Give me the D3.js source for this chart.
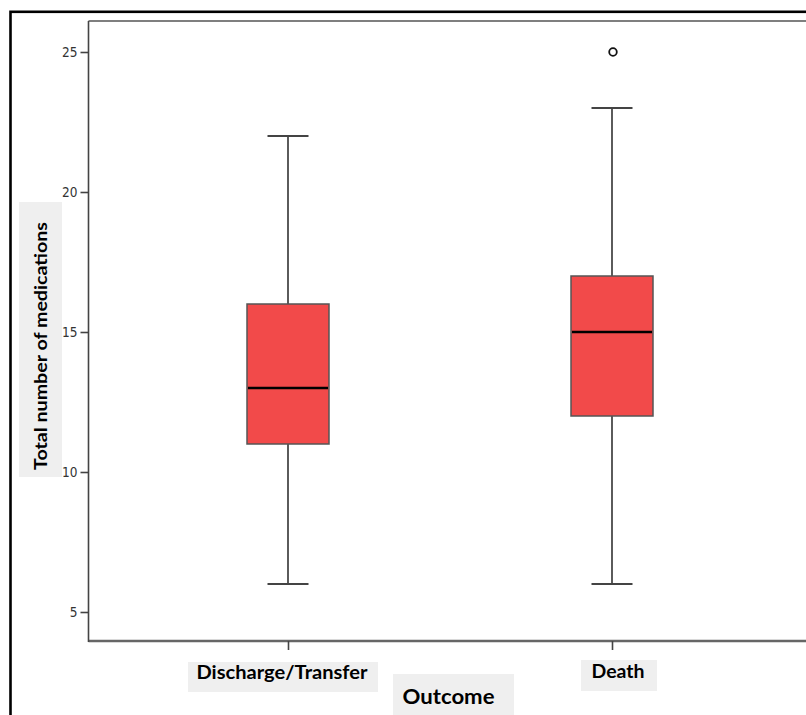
<!DOCTYPE html>
<html><head><meta charset="utf-8">
<script src="https://cdn.jsdelivr.net/npm/d3@7"></script>
<style>html,body{margin:0;padding:0;background:#fff;}svg{display:block;}</style>
</head><body>
<script>
const categories = ["Discharge/Transfer", "Death"];
const whiskerLow = [6, 6];
const q1 = [11, 12];
const median = [13, 15];
const q3 = [16, 17];
const whiskerHigh = [22, 23];
const outliers = [[], [25]];
const yTicks = [5, 10, 15, 20, 25];
const xTitle = "Outcome";
const yTitle = "Total number of medications";

const W = 806, H = 715;
const svg = d3.select("body").append("svg").attr("width", W).attr("height", H);
const font = "Lato, 'Open Sans', sans-serif";

const y = d3.scaleLinear().domain([5, 25]).range([612, 52]);
const x = d3.scalePoint().domain(categories).range([288, 612]);
const plotLeft = 88.5, plotTop = 21, plotBottom = 641;
const boxW = 82, capW = 41;

// outer frame
svg.append("rect").attr("x", 10.5).attr("y", 11.8).attr("width", 900).attr("height", 800)
  .attr("fill", "none").attr("stroke", "#000").attr("stroke-width", 2.6);

// plot frame
svg.append("line").attr("x1", plotLeft).attr("x2", 900).attr("y1", plotTop).attr("y2", plotTop)
  .attr("stroke", "#555").attr("stroke-width", 1.6);
svg.append("line").attr("x1", plotLeft).attr("x2", 900).attr("y1", plotBottom).attr("y2", plotBottom)
  .attr("stroke", "#666").attr("stroke-width", 2.6);

// y axis
const yAxis = d3.axisLeft(y).tickValues(yTicks).tickSize(8).tickPadding(3).tickSizeOuter(0);
const gy = svg.append("g").attr("transform", `translate(${plotLeft},0)`).call(yAxis);
gy.select(".domain").remove();
svg.append("line").attr("x1", plotLeft).attr("x2", plotLeft).attr("y1", plotTop).attr("y2", plotBottom + 1)
  .attr("stroke", "#444").attr("stroke-width", 1.6);
gy.selectAll(".tick line").attr("stroke", "#444").attr("stroke-width", 1.6);
gy.selectAll(".tick text").attr("fill", "#333").attr("font-family", "'DejaVu Sans Condensed', 'DejaVu Sans', sans-serif")
  .attr("font-size", 13.5);

// x axis ticks
const xAxis = d3.axisBottom(x).tickSize(9).tickFormat("").tickSizeOuter(0);
const gx = svg.append("g").attr("transform", `translate(0,${plotBottom})`).call(xAxis);
gx.select(".domain").remove();
gx.selectAll(".tick line").attr("stroke", "#444").attr("stroke-width", 1.6);

// boxes
const data = categories.map((c, i) => ({c, lo: whiskerLow[i], q1: q1[i], med: median[i], q3: q3[i], hi: whiskerHigh[i], out: outliers[i]}));
const g = svg.selectAll("g.box").data(data).enter().append("g").attr("class", "box");
// whiskers
g.append("line").attr("x1", d => x(d.c)).attr("x2", d => x(d.c)).attr("y1", d => y(d.hi)).attr("y2", d => y(d.q3))
  .attr("stroke", "#333").attr("stroke-width", 1.6);
g.append("line").attr("x1", d => x(d.c)).attr("x2", d => x(d.c)).attr("y1", d => y(d.q1)).attr("y2", d => y(d.lo))
  .attr("stroke", "#333").attr("stroke-width", 1.6);
g.append("line").attr("x1", d => x(d.c) - capW / 2).attr("x2", d => x(d.c) + capW / 2).attr("y1", d => y(d.hi)).attr("y2", d => y(d.hi))
  .attr("stroke", "#444").attr("stroke-width", 2.2);
g.append("line").attr("x1", d => x(d.c) - capW / 2).attr("x2", d => x(d.c) + capW / 2).attr("y1", d => y(d.lo)).attr("y2", d => y(d.lo))
  .attr("stroke", "#444").attr("stroke-width", 2.2);
// box
g.append("rect").attr("x", d => x(d.c) - boxW / 2).attr("width", boxW)
  .attr("y", d => y(d.q3)).attr("height", d => y(d.q1) - y(d.q3))
  .attr("fill", "#f24a4a").attr("stroke", "#555").attr("stroke-width", 1.5);
// median
g.append("line").attr("x1", d => x(d.c) - boxW / 2 + 1).attr("x2", d => x(d.c) + boxW / 2 - 1)
  .attr("y1", d => y(d.med)).attr("y2", d => y(d.med)).attr("stroke", "#000").attr("stroke-width", 2.6);
// outliers
g.selectAll("circle").data(d => d.out.map(v => ({c: d.c, v}))).enter().append("circle")
  .attr("cx", d => x(d.c) + 1).attr("cy", d => y(d.v)).attr("r", 3.8)
  .attr("fill", "none").attr("stroke", "#111").attr("stroke-width", 1.8);

// category labels with grey backgrounds
const labelBoxes = [
  {x0: 188, x1: 378, y0: 662, y1: 692, tl: 171, base: 679},
  {x0: 581, x1: 657, y0: 660, y1: 691, tl: 53, base: 678}
];
categories.forEach((c, i) => {
  const b = labelBoxes[i];
  svg.append("rect").attr("x", b.x0).attr("y", b.y0).attr("width", b.x1 - b.x0).attr("height", b.y1 - b.y0).attr("fill", "#efefef");
  svg.append("text").attr("x", x(c) - 6 + (i === 1 ? 12 : 0)).attr("y", b.base).attr("text-anchor", "middle")
    .attr("font-family", font).attr("font-weight", "bold").attr("font-size", 18).attr("fill", "#000")
    .attr("textLength", b.tl).attr("lengthAdjust", "spacingAndGlyphs").text(c);
});

// x title
svg.append("rect").attr("x", 393).attr("y", 674).attr("width", 121).attr("height", 50).attr("fill", "#efefef");
svg.append("text").attr("x", 448.5).attr("y", 704).attr("text-anchor", "middle")
  .attr("font-family", font).attr("font-weight", "bold").attr("font-size", 21).attr("fill", "#000")
  .attr("textLength", 92).attr("lengthAdjust", "spacingAndGlyphs").text(xTitle);

// y title
svg.append("rect").attr("x", 19).attr("y", 202).attr("width", 43).attr("height", 275).attr("fill", "#efefef");
svg.append("text").attr("transform", "translate(47,346) rotate(-90)").attr("text-anchor", "middle")
  .attr("font-family", font).attr("font-weight", "bold").attr("font-size", 16.5).attr("fill", "#000")
  .attr("textLength", 248).attr("lengthAdjust", "spacingAndGlyphs").text(yTitle);
</script>
</body></html>
